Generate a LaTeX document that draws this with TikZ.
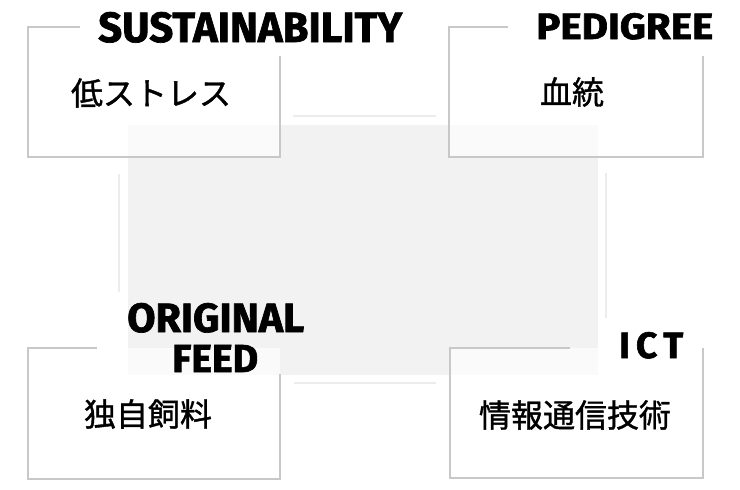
\documentclass[tikz,border=0pt]{standalone}
\usepackage{fontspec}
\usepackage{graphicx}
\newfontfamily\cjk{Noto Sans CJK JP}[FakeBold=1.2]
\newfontfamily\ttl{Fira Sans}[BoldFeatures={FakeBold=1.6}]
\definecolor{bordc}{HTML}{C8C8C8}
\definecolor{decoc}{HTML}{ECECEC}
\definecolor{graybg}{HTML}{F2F2F2}
\begin{document}
\begin{tikzpicture}[x=1pt,y=-1pt,
  bord/.style={draw=bordc,line width=1.6pt,line join=miter},
  panel/.style={fill=white,fill opacity=0.62},
  deco/.style={draw=decoc,line width=2pt},
  ttlnode/.style={inner sep=0pt,anchor=base west,text=black},
  jp/.style={font=\cjk\fontsize{32}{32}\selectfont,inner sep=0pt,text=black}]
\useasboundingbox (0,0) rectangle (740,490);
% central grey area
\fill[graybg] (128,125) rectangle (598,375);
% light decorative lines
\draw[deco] (293,116) -- (436,116);
\draw[deco] (294,383) -- (436,383);
\draw[deco] (119,174) -- (119,292);
\draw[deco] (606,173) -- (606,318);
% panels
\fill[panel] (28,27) rectangle (280,157);
\fill[panel] (449,27) rectangle (703,157);
\fill[panel] (28,348) rectangle (280,479);
\fill[panel] (450,348) rectangle (703,478);
\draw[bord] (80,27) -- (28,27) -- (28,157) -- (280,157) -- (280,56);
\draw[bord] (508,27) -- (449,27) -- (449,157) -- (703,157) -- (703,56);
\draw[bord] (97,348) -- (28,348) -- (28,479) -- (280,479) -- (280,374);
\draw[bord] (570,348) -- (450,348) -- (450,478) -- (703,478) -- (703,348);
% titles
\node[ttlnode] (tsus) at (98,42) {\resizebox{304pt}{30pt}{\ttl\bfseries SUSTAINABILITY}};
\node[ttlnode] (tped) at (536,39) {\resizebox{177pt}{26pt}{\ttl\bfseries PEDIGREE}};
\node[ttlnode] (torig) at (127,332) {\resizebox{177pt}{29pt}{\ttl\bfseries ORIGINAL}};
\node[ttlnode] (tfeed) at (172,372) {\resizebox{86pt}{27pt}{\ttl\bfseries FEED}};
\node[ttlnode] (tict) at (619,358) {\resizebox{64pt}{26pt}{\ttl\bfseries I\kern0.16em C\kern0.16em T}};
% japanese texts
\node[jp] (jstress) at (151,93) {低ストレス};
\node[jp] (jblood) at (572,92) {血統};
\node[jp] (jfeed) at (148,414) {独自飼料};
\node[jp] (jict) at (575,415) {情報通信技術};
\end{tikzpicture}
\end{document}
